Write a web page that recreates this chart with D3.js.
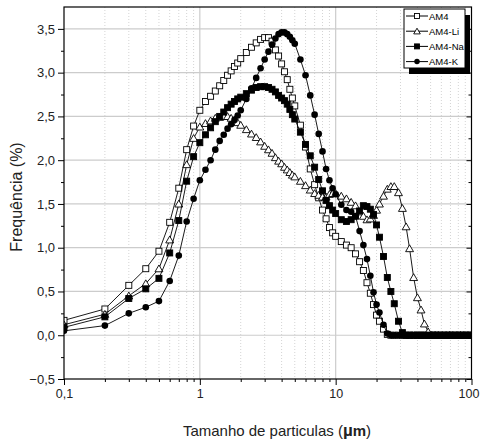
<!DOCTYPE html>
<html lang='pt'>

<head>
   <meta charset='UTF-8'>
   <title>Distribuição granulométrica</title>
   <script src='https://d3js.org/d3.v7.min.js'></script>
   <style>
      body {
         margin: 0;
         background: #fff;
      }

      svg {
         display: block;
         font-family: 'Liberation Sans', Arial, sans-serif;
      }
   </style>
</head>

<body>
   <div id='chart'></div>
   <script>

      // particle size classes (µm)
      const sizes = [0.1, 0.2, 0.3, 0.4, 0.5, 0.6, 0.7, 0.8, 0.9,
         1.0, 1.1, 1.2, 1.3, 1.4, 1.5, 1.6, 1.7, 1.8, 1.9,
         2.0, 2.2, 2.4, 2.6, 2.8, 3.0, 3.2, 3.4, 3.6, 3.8, 4.0, 4.2, 4.4, 4.6, 4.8,
         5.0, 5.5, 6.0, 6.5, 7.0, 7.5, 8.0, 8.5, 9.0, 9.5,
         10, 11, 12, 13, 14, 15, 16, 17, 18, 19,
         20, 21, 22.5, 24, 25.5, 27, 29, 31, 33, 35, 37.5, 40, 42.5, 45, 48, 51, 54, 57, 61, 65,
         69, 73, 78, 83, 88, 94, 100];

      const am4 = [0.17, 0.30, 0.57, 0.76, 0.96, 1.29, 1.68, 2.12, 2.39,
         2.57, 2.67, 2.73, 2.79, 2.85, 2.91, 2.97, 3.02, 3.07, 3.11,
         3.16, 3.23, 3.29, 3.34, 3.38, 3.40, 3.40, 3.36, 3.26, 3.19, 3.10, 3.01, 2.92, 2.81, 2.71,
         2.62, 2.40, 2.15, 1.90, 1.72, 1.57, 1.43, 1.33, 1.23, 1.17,
         1.13, 1.07, 1.03, 1.00, 0.93, 0.84, 0.74, 0.60, 0.48, 0.35,
         0.23, 0.16, 0.07, 0.01, 0, 0, 0, 0, 0, 0, 0, 0, 0, 0, 0, 0, 0, 0, 0, 0,
         0, 0, 0, 0, 0, 0, 0];

      const am4Li = [0.12, 0.24, 0.45, 0.59, 0.76, 1.09, 1.50, 1.95, 2.25,
         2.38, 2.42, 2.45, 2.48, 2.49, 2.50, 2.50, 2.48, 2.46, 2.43,
         2.40, 2.35, 2.30, 2.26, 2.21, 2.16, 2.12, 2.08, 2.03, 1.99, 1.96, 1.92, 1.89, 1.86, 1.83,
         1.81, 1.76, 1.71, 1.66, 1.62, 1.60, 1.58, 1.58, 1.61, 1.62,
         1.62, 1.59, 1.56, 1.52, 1.48, 1.41, 1.36, 1.32, 1.33, 1.37,
         1.43, 1.50, 1.59, 1.67, 1.70, 1.70, 1.63, 1.45, 1.24, 0.99, 0.66, 0.43, 0.29, 0.13, 0.04, 0, 0, 0, 0, 0,
         0, 0, 0, 0, 0, 0, 0];

      const am4Na = [0.09, 0.21, 0.42, 0.53, 0.65, 0.94, 1.31, 1.76, 2.04,
         2.20, 2.29, 2.37, 2.44, 2.50, 2.55, 2.60, 2.64, 2.67, 2.70,
         2.72, 2.76, 2.80, 2.83, 2.84, 2.84, 2.83, 2.81, 2.78, 2.74, 2.71, 2.68, 2.64, 2.58, 2.52,
         2.47, 2.32, 2.18, 2.05, 1.92, 1.78, 1.65, 1.54, 1.48, 1.43,
         1.39, 1.32, 1.30, 1.32, 1.36, 1.42, 1.48, 1.47, 1.44, 1.38,
         1.26, 1.12, 0.90, 0.66, 0.50, 0.36, 0.16, 0.03, 0, 0, 0, 0, 0, 0, 0, 0, 0, 0, 0, 0,
         0, 0, 0, 0, 0, 0, 0];

      const am4K = [0.05, 0.11, 0.25, 0.32, 0.39, 0.62, 0.91, 1.30, 1.56,
         1.77, 1.89, 2.00, 2.12, 2.22, 2.29, 2.36, 2.41, 2.46, 2.51,
         2.57, 2.70, 2.82, 2.94, 3.05, 3.15, 3.24, 3.32, 3.39, 3.44, 3.46, 3.46, 3.44, 3.41, 3.37,
         3.33, 3.15, 2.97, 2.74, 2.52, 2.30, 2.10, 1.90, 1.77, 1.68,
         1.61, 1.49, 1.43, 1.41, 1.36, 1.19, 1.03, 0.87, 0.68, 0.49,
         0.35, 0.26, 0.12, 0.02, 0, 0, 0, 0, 0, 0, 0, 0, 0, 0, 0, 0, 0, 0, 0, 0,
         0, 0, 0, 0, 0, 0, 0];

      const seriesNames = ['AM4', 'AM4-Li', 'AM4-Na', 'AM4-K'];
      const seriesValues = [am4, am4Li, am4Na, am4K];
      const markerTypes = ['square', 'triangle', 'squareFilled', 'circle'];

      const xTickValues = [0.1, 1, 10, 100];
      const xTickLabels = ['0,1', '1', '10', '100'];
      const yTickValues = [-0.5, 0, 0.5, 1, 1.5, 2, 2.5, 3, 3.5];

      const W = 481, H = 441;
      const plot = { left: 64, right: 471.5, top: 7, bottom: 379 };

      const svg = d3.select('#chart').append('svg').attr('width', W).attr('height', H);
      svg.append('rect').attr('width', W).attr('height', H).attr('fill', '#fff');

      const x = d3.scaleLog().domain([0.1, 100]).range([plot.left, plot.right]);
      const y = d3.scaleLinear().domain([-0.5, 3.75]).range([plot.bottom, plot.top]);

      // minor x positions (2..9 of each decade)
      const xMinor = [];
      [0.1, 1, 10].forEach(d => { for (let k = 2; k <= 9; k++) xMinor.push(d * k); });
      const yMinor = d3.range(-0.25, 3.75, 0.5);

      const grid = svg.append('g');
      grid.selectAll('.vminor').data(xMinor).enter().append('line')
         .attr('x1', d => x(d)).attr('x2', d => x(d))
         .attr('y1', plot.top).attr('y2', plot.bottom)
         .attr('stroke', '#d4d4d4').attr('stroke-width', 1).attr('stroke-dasharray', '1,2');
      grid.selectAll('.vmajor').data([1, 10]).enter().append('line')
         .attr('x1', d => x(d)).attr('x2', d => x(d))
         .attr('y1', plot.top).attr('y2', plot.bottom)
         .attr('stroke', '#cccccc').attr('stroke-width', 1.2);
      grid.selectAll('.hmajor').data(yTickValues.slice(1)).enter().append('line')
         .attr('x1', plot.left).attr('x2', plot.right)
         .attr('y1', d => y(d)).attr('y2', d => y(d))
         .attr('stroke', '#cccccc').attr('stroke-width', 1.2);

      // series
      svg.append('defs').append('clipPath').attr('id', 'clip')
         .append('rect').attr('x', plot.left).attr('y', plot.top)
         .attr('width', plot.right - plot.left).attr('height', plot.bottom - plot.top);

      const line = d3.line().x(d => x(d[0])).y(d => y(d[1]));
      const plotArea = svg.append('g').attr('clip-path', 'url(#clip)');

      const drawMarker = (sel, type, s) => {
         if (type === 'circle') {
            sel.append('circle').attr('r', s * 0.55).attr('fill', '#000');
         } else if (type === 'triangle') {
            sel.append('path').attr('d', d3.symbol().type(d3.symbolTriangle).size(s * s * 0.75)())
               .attr('transform', 'translate(0,0.8)')
               .attr('fill', '#fff').attr('stroke', '#000').attr('stroke-width', 0.9);
         } else {
            sel.append('rect').attr('x', -s / 2).attr('y', -s / 2).attr('width', s).attr('height', s)
               .attr('fill', type === 'square' ? '#fff' : '#000')
               .attr('stroke', '#000').attr('stroke-width', 0.9);
         }
      };

      seriesValues.forEach((vals, i) => {
         const pts = sizes.map((s, j) => [s, vals[j]]);
         const g = plotArea.append('g');
         g.append('path').attr('d', line(pts))
            .attr('fill', 'none').attr('stroke', '#000').attr('stroke-width', 0.9);
         g.selectAll('g.pt').data(pts).enter().append('g')
            .attr('transform', d => `translate(${x(d[0])},${y(d[1])})`)
            .each(function () { drawMarker(d3.select(this), markerTypes[i], 6); });
      });

      // axes
      const axisG = svg.append('g').attr('stroke', '#000');
      axisG.append('rect').attr('x', plot.left).attr('y', plot.top)
         .attr('width', plot.right - plot.left).attr('height', plot.bottom - plot.top)
         .attr('fill', 'none').attr('stroke', '#000').attr('stroke-width', 1.2);

      const leftAxis = d3.axisLeft(y).tickValues(yTickValues).tickSize(6).tickPadding(3)
         .tickFormat(d => d3.format('.1f')(d).replace('.', ','));
      svg.append('g').attr('transform', `translate(${plot.left},0)`).call(leftAxis)
         .call(g => g.select('.domain').remove())
         .call(g => g.selectAll('text').attr('font-size', 13).attr('fill', '#222').attr('font-family', null));
      svg.append('g').attr('transform', `translate(${plot.left},0)`)
         .call(d3.axisLeft(y).tickValues(yMinor).tickSize(3).tickFormat(''))
         .call(g => g.select('.domain').remove());

      // right side: inward ticks
      svg.append('g').attr('transform', `translate(${plot.right},0)`)
         .call(d3.axisLeft(y).tickValues(yTickValues).tickSize(5).tickFormat(''))
         .call(g => g.select('.domain').remove());
      svg.append('g').attr('transform', `translate(${plot.right},0)`)
         .call(d3.axisLeft(y).tickValues(yMinor).tickSize(3).tickFormat(''))
         .call(g => g.select('.domain').remove());

      const bottomAxis = d3.axisBottom(x).tickValues(xTickValues).tickSize(6).tickPadding(4)
         .tickFormat((d, i) => xTickLabels[i]);
      svg.append('g').attr('transform', `translate(0,${plot.bottom})`).call(bottomAxis)
         .call(g => g.select('.domain').remove())
         .call(g => g.selectAll('text').attr('font-size', 12.5).attr('fill', '#222').attr('font-family', null))
         .call(g => g.selectAll('text').filter(d => d === 100).attr('dx', -3));
      svg.append('g').attr('transform', `translate(0,${plot.bottom})`)
         .call(d3.axisBottom(x).tickValues(xMinor).tickSize(3).tickFormat(''))
         .call(g => g.select('.domain').remove());

      // axis titles
      svg.append('text')
         .attr('transform', `translate(22,${(plot.top + plot.bottom) / 2 + 4}) rotate(-90)`)
         .attr('text-anchor', 'middle')
         .attr('font-size', 16)
         .attr('fill', '#222')
         .text('Frequência (%)');

      const xTitle = svg.append('text')
         .attr('x', 277).attr('y', 436)
         .attr('text-anchor', 'middle')
         .attr('font-size', 15)
         .attr('fill', '#222');
      xTitle.append('tspan').text('Tamanho de particulas (');
      xTitle.append('tspan').attr('font-weight', 'bold').attr('font-size', 17).text('µ');
      xTitle.append('tspan').attr('font-weight', 'bold').text('m');
      xTitle.append('tspan').text(')');

      // legend with drop shadow
      const lg = svg.append('g').attr('transform', 'translate(404,9)');
      lg.append('rect').attr('x', 5).attr('y', 6).attr('width', 61).attr('height', 59).attr('fill', '#000');
      lg.append('rect').attr('width', 61).attr('height', 59)
         .attr('fill', '#fff').attr('stroke', '#000').attr('stroke-width', 1);
      seriesNames.forEach((name, i) => {
         const row = lg.append('g').attr('transform', `translate(0,${7 + i * 15.2})`);
         row.append('line').attr('x1', 2).attr('x2', 24).attr('stroke', '#000').attr('stroke-width', 1);
         const m = row.append('g').attr('transform', 'translate(13,0)');
         drawMarker(m, markerTypes[i], 5);
         row.append('text').attr('x', 25).attr('y', 3.5)
            .attr('font-size', 9.5).attr('fill', '#000').text(name);
      });

   </script>
</body>

</html>
